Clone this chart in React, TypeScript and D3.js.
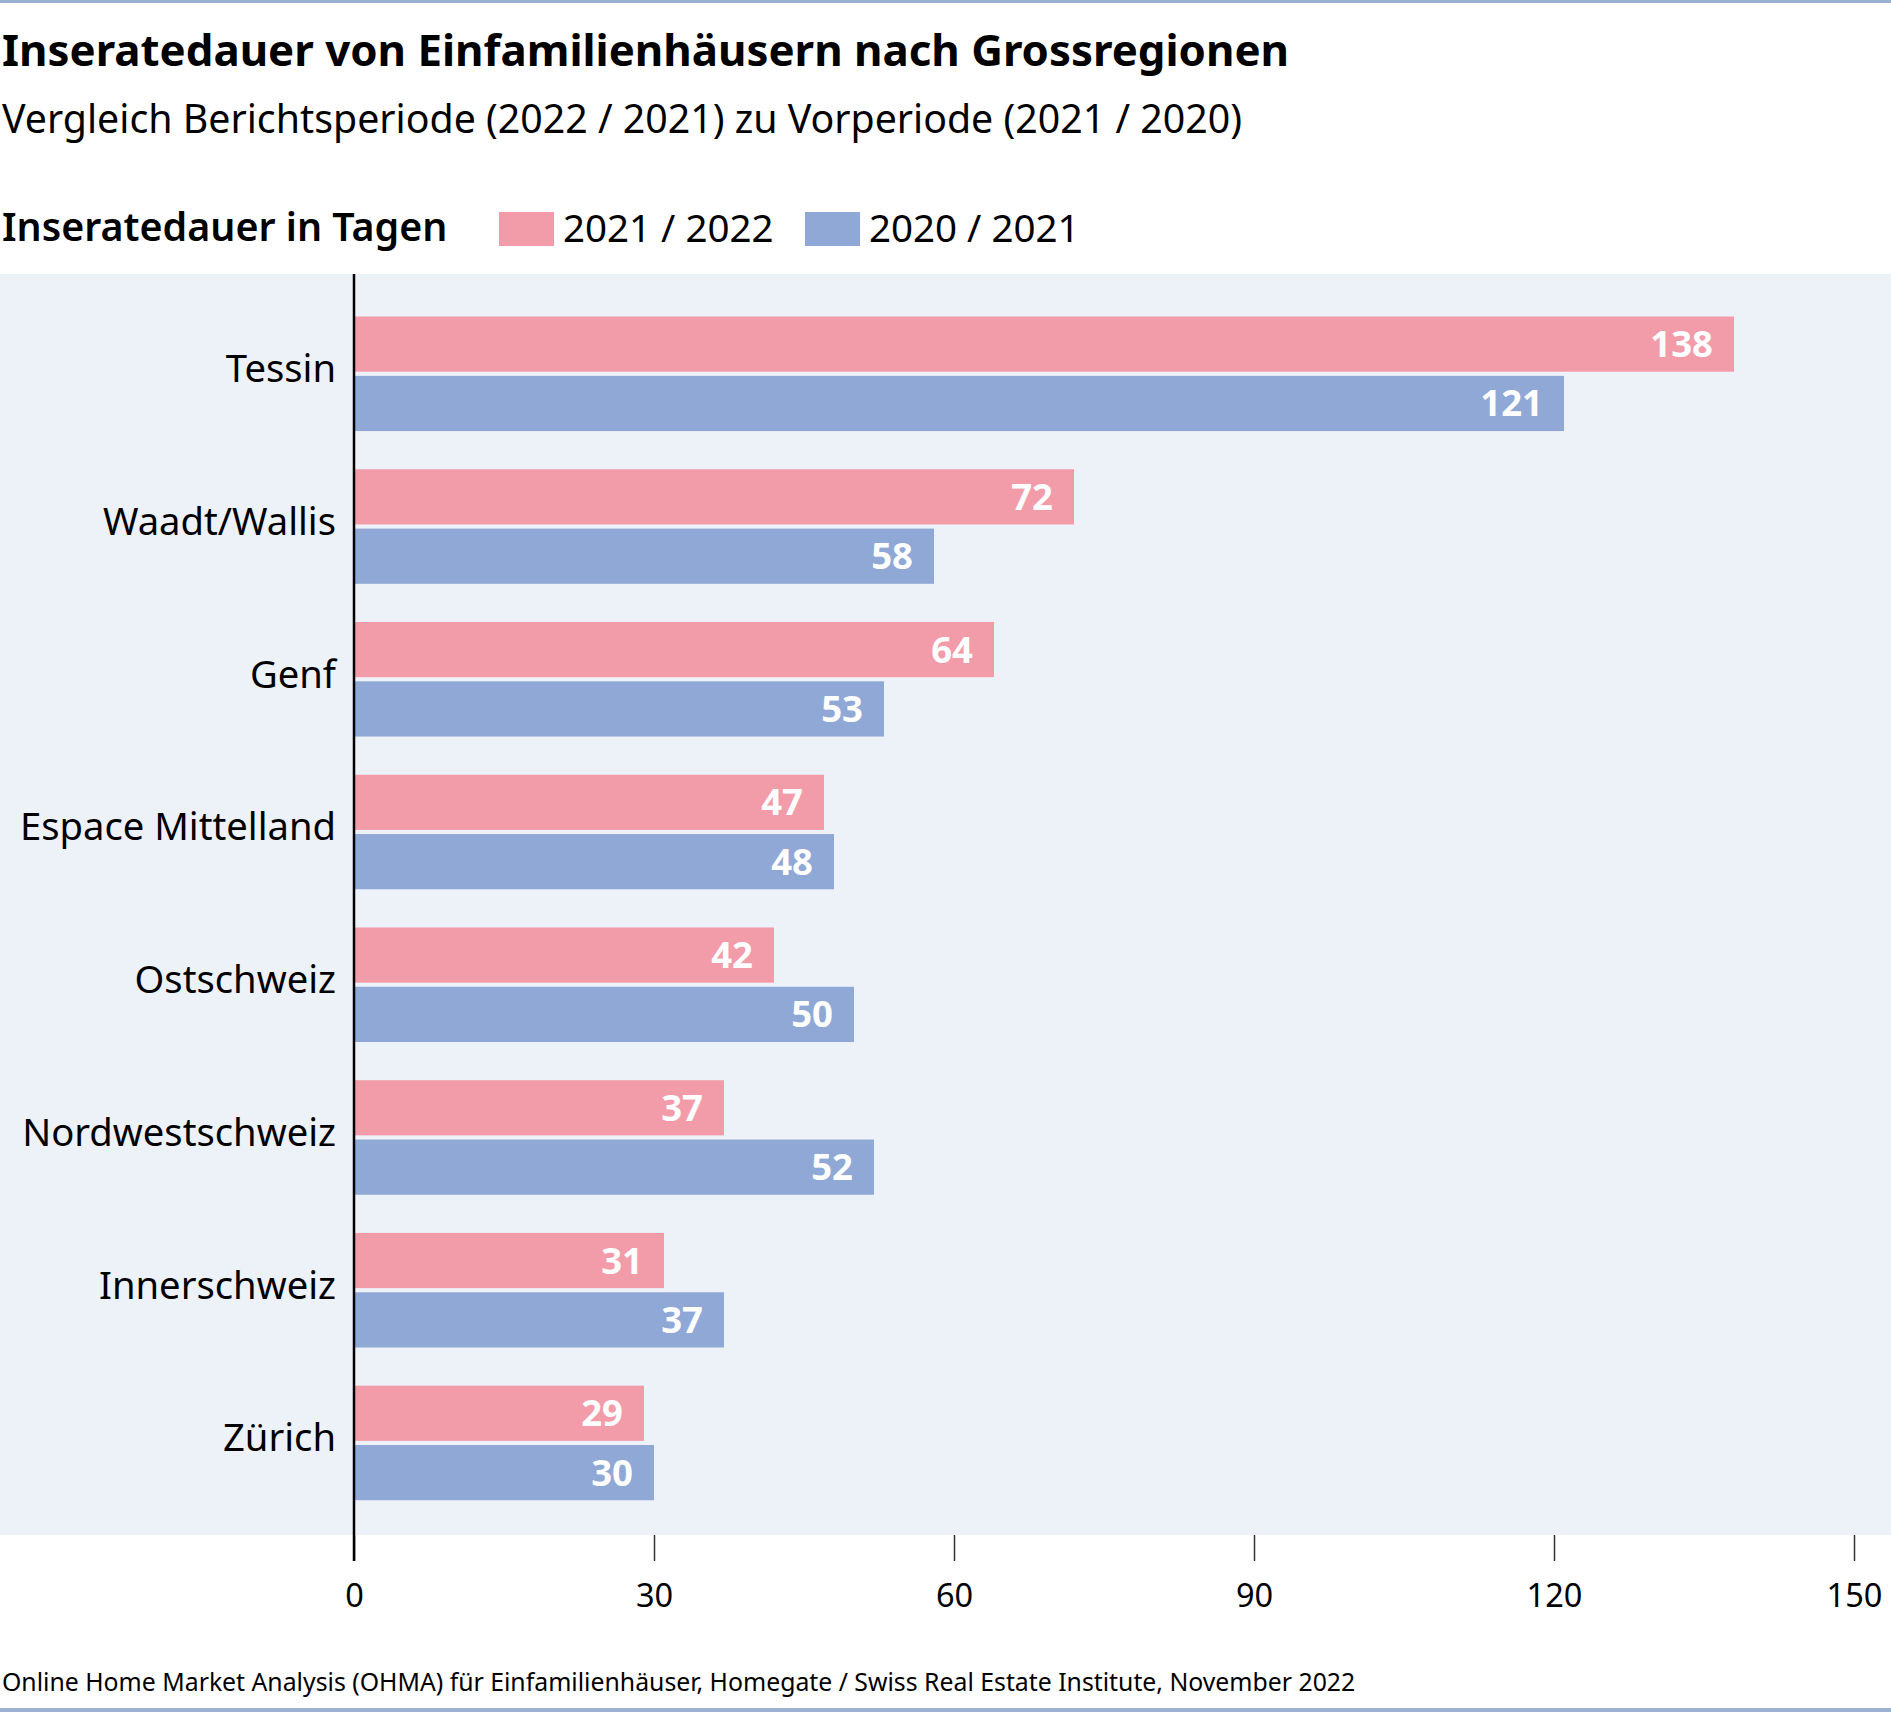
import { useEffect, useRef } from 'react';
import * as d3 from 'd3';

const regions = ['Tessin', 'Waadt/Wallis', 'Genf', 'Espace Mittelland', 'Ostschweiz', 'Nordwestschweiz', 'Innerschweiz', 'Zürich'];
const values2122 = [138, 72, 64, 47, 42, 37, 31, 29];
const values2021 = [121, 58, 53, 48, 50, 52, 37, 30];
const seriesNames = ['2021 / 2022', '2020 / 2021'];
const seriesColors = ['#f29ca9', '#8fa8d6'];
const xTicks = [0, 30, 60, 90, 120, 150];

const title = 'Inseratedauer von Einfamilienhäusern nach Grossregionen';
const subtitle = 'Vergleich Berichtsperiode (2022 / 2021) zu Vorperiode (2021 / 2020)';
const legendTitle = 'Inseratedauer in Tagen';
const footnote = 'Online Home Market Analysis (OHMA) für Einfamilienhäuser, Homegate / Swiss Real Estate Institute, November 2022';

export default function App() {
    const ref = useRef<SVGSVGElement>(null);

    useEffect(() => {
        if (!ref.current) return;
        const width = 1891;
        const height = 1712;
        const font = '"Noto Sans", "Open Sans", sans-serif';

        const svg = d3.select(ref.current);
        svg.selectAll('*').remove();
        svg.attr('width', width).attr('height', height).style('font-family', font);

        const plotTop = 274;
        const plotBottom = 1535;

        const data = regions.map((r, i) => ({ region: r, values: [values2122[i], values2021[i]] }));

        const xScale = d3.scaleLinear().domain([0, 150]).range([354, 1854]);
        const yScale = d3.scaleBand<string>()
            .domain(regions)
            .range([plotTop, plotBottom])
            .paddingInner(0.25)
            .paddingOuter(0.253)
            .align(0.55);
        const ySub = d3.scaleBand<string>()
            .domain(seriesNames)
            .range([0, yScale.bandwidth()])
            .paddingInner(0.07);

        // frame lines
        svg.append('rect').attr('x', 0).attr('y', 0).attr('width', width).attr('height', 3).attr('fill', '#9db1d5');
        svg.append('rect').attr('x', 0).attr('y', 1708).attr('width', width).attr('height', 4).attr('fill', '#9db1d5');

        // titles
        svg.append('text').attr('x', 2).attr('y', 66)
            .style('font-size', '43.8px').style('font-weight', 700).style('fill', '#000')
            .text(title);
        svg.append('text').attr('x', 2).attr('y', 133)
            .style('font-size', '39.3px').style('fill', '#000')
            .text(subtitle);

        // legend
        svg.append('text').attr('x', 2).attr('y', 241)
            .style('font-size', '39.4px').style('font-weight', 600).style('fill', '#000')
            .text(legendTitle);
        const legendX = [499, 805];
        seriesNames.forEach((name, i) => {
            svg.append('rect').attr('x', legendX[i]).attr('y', 212).attr('width', 55).attr('height', 34)
                .attr('fill', seriesColors[i]);
            svg.append('text').attr('x', legendX[i] + 64).attr('y', 242)
                .style('font-size', '38.5px').style('fill', '#000')
                .text(name);
        });

        // plot background
        svg.append('rect').attr('x', 0).attr('y', plotTop).attr('width', width).attr('height', plotBottom - plotTop)
            .attr('fill', '#edf1f8');

        // bars
        const groups = svg.append('g').selectAll('g')
            .data(data)
            .enter().append('g')
            .attr('transform', d => `translate(0, ${yScale(d.region)})`);

        groups.selectAll('rect')
            .data(d => d.values.map((v, i) => ({ v, s: seriesNames[i], c: seriesColors[i] })))
            .enter().append('rect')
            .attr('x', xScale(0))
            .attr('y', d => ySub(d.s) ?? 0)
            .attr('width', d => xScale(d.v) - xScale(0))
            .attr('height', ySub.bandwidth())
            .attr('fill', d => d.c);

        groups.selectAll('text.val')
            .data(d => d.values.map((v, i) => ({ v, s: seriesNames[i] })))
            .enter().append('text')
            .attr('class', 'val')
            .attr('x', d => xScale(d.v) - 21)
            .attr('y', d => (ySub(d.s) ?? 0) + ySub.bandwidth() / 2 + 13)
            .attr('text-anchor', 'end')
            .style('font-size', '36.5px').style('font-weight', 700).style('fill', '#fff')
            .text(d => d.v);

        // category labels
        groups.append('text')
            .attr('x', 336)
            .attr('y', yScale.bandwidth() / 2 + 8.5)
            .attr('text-anchor', 'end')
            .style('font-size', '38.2px').style('fill', '#000')
            .text(d => d.region);

        // x axis ticks
        const xAxis = d3.axisBottom(xScale).tickValues(xTicks).tickSize(26).tickPadding(23).tickFormat(d => String(d));
        const ax = svg.append('g').attr('transform', `translate(0, ${plotBottom})`).call(xAxis);
        ax.select('.domain').remove();
        ax.selectAll('line').attr('stroke', '#333').attr('stroke-width', 1.5);
        ax.selectAll('text').style('font-size', '32.5px').style('font-family', font).style('fill', '#000');

        // vertical zero axis
        svg.append('line')
            .attr('x1', xScale(0)).attr('x2', xScale(0))
            .attr('y1', plotTop).attr('y2', plotBottom + 26)
            .attr('stroke', '#000').attr('stroke-width', 2.5);

        // source
        svg.append('text').attr('x', 2).attr('y', 1691)
            .style('font-size', '24.8px').style('fill', '#000')
            .text(footnote);
    }, []);

    return (
        <div style={{ position: 'absolute', left: 0, top: 0, width: 1891, height: 1712, background: '#fff' }}>
            <svg ref={ref} style={{ display: 'block' }} />
        </div>
    );
}
